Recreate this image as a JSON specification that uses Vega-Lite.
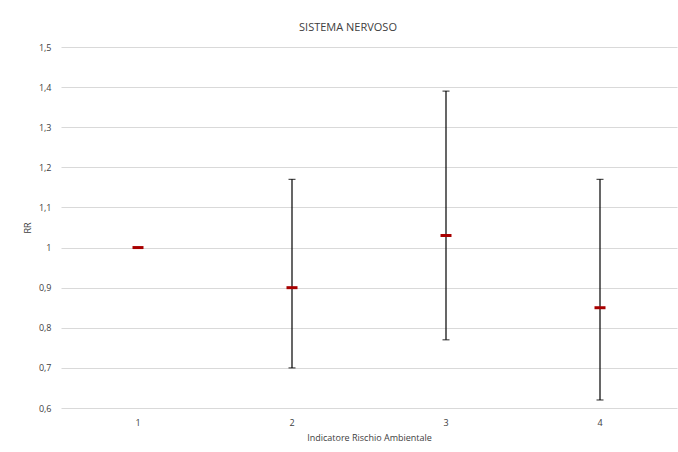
{
  "$schema": "https://vega.github.io/schema/vega-lite/v6.json",
  "width": 616,
  "height": 361,
  "autosize": "none",
  "padding": {"left": 61, "top": 47, "right": 1, "bottom": 44},
  "background": "white",
  "title": {
    "text": "SISTEMA NERVOSO",
    "font": "Open Sans",
    "fontSize": 11,
    "fontWeight": "normal",
    "color": "#404040",
    "anchor": "middle",
    "dx": -21,
    "offset": 10
  },
  "data": {
    "values": [
      {"cat": "1", "rr": 1.0, "lo": null, "hi": null},
      {"cat": "2", "rr": 0.9, "lo": 0.70, "hi": 1.17},
      {"cat": "3", "rr": 1.03, "lo": 0.77, "hi": 1.39},
      {"cat": "4", "rr": 0.85, "lo": 0.62, "hi": 1.17}
    ]
  },
  "encoding": {
    "x": {
      "field": "cat",
      "type": "ordinal",
      "scale": {"paddingInner": 0, "paddingOuter": 0},
      "axis": {
        "title": "Indicatore Rischio Ambientale",
        "labelAngle": 0,
        "domain": false,
        "ticks": false,
        "grid": false,
        "labelPadding": 10,
        "titlePadding": 6
      }
    }
  },
  "layer": [
    {
      "mark": {"type": "rule", "color": "#000000", "strokeWidth": 1.2},
      "transform": [{"filter": "datum.lo != null"}],
      "encoding": {
        "y": {"field": "lo", "type": "quantitative"},
        "y2": {"field": "hi"}
      }
    },
    {
      "mark": {"type": "tick", "color": "#000000", "size": 7, "thickness": 1.2},
      "transform": [{"filter": "datum.lo != null"}],
      "encoding": {"y": {"field": "lo", "type": "quantitative"}}
    },
    {
      "mark": {"type": "tick", "color": "#000000", "size": 7, "thickness": 1.2},
      "transform": [{"filter": "datum.lo != null"}],
      "encoding": {"y": {"field": "hi", "type": "quantitative"}}
    },
    {
      "mark": {"type": "tick", "color": "#a80000", "size": 11, "thickness": 3, "opacity": 1},
      "encoding": {
        "y": {
          "field": "rr",
          "type": "quantitative",
          "scale": {"domain": [0.6, 1.5], "nice": false, "zero": false},
          "axis": {
            "title": "RR",
            "values": [0.6, 0.7, 0.8, 0.9, 1.0, 1.1, 1.2, 1.3, 1.4, 1.5],
            "labelExpr": "replace(toString(round(datum.value*10)/10), '.', ',')",
            "domain": false,
            "ticks": false,
            "labelPadding": 10,
            "titlePadding": 6
          }
        }
      }
    }
  ],
  "config": {
    "view": {"stroke": null},
    "axis": {
      "labelFont": "Open Sans",
      "labelFontSize": 9,
      "labelColor": "#404040",
      "titleFont": "Open Sans",
      "titleFontSize": 9,
      "titleFontWeight": "normal",
      "titleColor": "#404040",
      "gridColor": "#d9d9d9",
      "gridWidth": 1
    }
  }
}
